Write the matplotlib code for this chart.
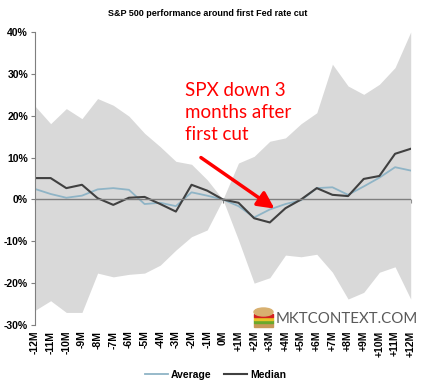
import numpy as np
import matplotlib.pyplot as plt
from matplotlib.patches import Rectangle, Ellipse

months = ["-12M", "-11M", "-10M", "-9M", "-8M", "-7M", "-6M", "-5M", "-4M", "-3M", "-2M", "-1M", "0M",
          "+1M", "+2M", "+3M", "+4M", "+5M", "+6M", "+7M", "+8M", "+9M", "+10M", "+11M", "+12M"]
upper = [22.3, 18.1, 21.7, 19.3, 24.1, 22.5, 19.9, 15.8, 12.6, 9.1, 8.4, 4.7, 0.0,
         8.7, 10.3, 13.9, 14.7, 18.1, 20.7, 32.3, 27.1, 25.1, 27.5, 31.5, 40.0]
lower = [-26.5, -24.2, -27.0, -27.0, -17.6, -18.5, -17.9, -17.6, -15.7, -12.1, -8.9, -7.3, 0.0,
         -9.7, -20.0, -18.7, -13.3, -13.7, -13.1, -17.4, -23.8, -22.2, -17.4, -16.1, -23.8]
average = [2.5, 1.3, 0.4, 0.9, 2.4, 2.7, 2.3, -1.1, -0.8, -1.6, 1.7, 0.9, 0.0,
           -1.6, -4.3, -2.4, -1.1, -0.2, 2.7, 2.9, 1.1, 3.1, 5.2, 7.7, 6.9]
median = [5.1, 5.1, 2.7, 3.5, 0.3, -1.3, 0.4, 0.6, -1.1, -2.9, 3.5, 2.1, 0.0,
          -0.8, -4.5, -5.5, -2.1, 0.0, 2.7, 1.1, 0.8, 4.9, 5.6, 10.9, 12.1]
yticks = [-30, -20, -10, 0, 10, 20, 30, 40]

plt.rcParams['font.family'] = ['Liberation Sans', 'DejaVu Sans']

fig = plt.figure(figsize=(4.23, 3.86), dpi=100)
ax = fig.add_axes([35/423, 61/386, 375.7/423, 293/386])

x = np.arange(len(months))
ax.fill_between(x, lower, upper, color="#d9d9d9", lw=0)
ax.plot(x, average, color="#8fb4c6", lw=1.3, label="Average")
ax.plot(x, median, color="#404040", lw=1.5, label="Median")
ax.axhline(0, color="#7f7f7f", lw=1)

ax.set_xlim(0, 24)
ax.set_ylim(-30, 40)
ax.set_yticks(yticks)
ax.set_yticklabels([f"{v}%" for v in yticks], fontsize=7.5, fontweight="bold")
ax.tick_params(axis="y", length=3, color="#7f7f7f", pad=2)
ax.set_xticks(x)
ax.set_xticklabels(months, rotation=90, fontsize=7.5, fontweight="bold")
ax.tick_params(axis="x", length=0, pad=4)
for s in ["top", "right", "bottom"]:
    ax.spines[s].set_visible(False)
ax.spines["left"].set_color("#7f7f7f")

sec = ax.secondary_xaxis(3/7)
sec.set_xticks(x)
sec.set_xticklabels([])
sec.tick_params(length=3, color="#7f7f7f")
sec.spines["bottom"].set_visible(False)

fig.text(208/423, 1 - 14/386, "S&P 500 performance around first Fed rate cut", fontsize=6.5,
         fontweight="bold", ha="center", va="center")

ax.text(9.6, 28, "SPX down 3\nmonths after\nfirst cut", color="red", fontsize=13.5,
        family="Lato", va="top", ha="left", linespacing=1.35)
ax.annotate("", xy=(15.3, -2.2), xytext=(10.6, 10.0),
            arrowprops=dict(arrowstyle="-|>,head_width=0.5,head_length=1.0",
                            color="red", lw=2.5, shrinkA=0, shrinkB=0))

# watermark
fig.text(276/423, 1 - 319/386, "MKTCONTEXT.COM", fontsize=10.8, color="#595959",
         family="Lato", va="center", ha="left")
layers = [("#c89858", 59, 4), ("#6aa82c", 63, 3), ("#e8c428", 66, 3), ("#d42020", 69, 3)]
for c, y0, h in layers:
    fig.patches.append(Rectangle((254/423, y0/386), 19/423, h/386,
                                 transform=fig.transFigure, color=c, zorder=5))
fig.patches.append(Ellipse((263.5/423, 74/386), 19/423, 8/386,
                           transform=fig.transFigure, color="#d8b070", zorder=5))

ax.legend(loc="upper center", bbox_to_anchor=(0.48, -0.12), ncol=2, frameon=False,
          prop={"weight": "bold", "size": 7.5}, handlelength=2.2, columnspacing=1.2,
          handletextpad=0.3)

fig.savefig("out.png", dpi=100)
